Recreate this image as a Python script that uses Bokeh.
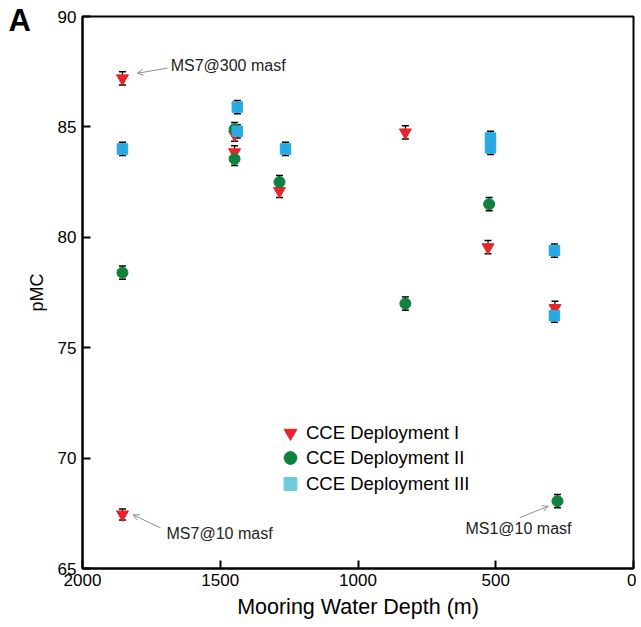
from bokeh.plotting import figure
from bokeh.models import (ColumnDataSource, Range1d, FixedTicker, Whisker, TeeHead,
                          Legend, LegendItem, Label, Arrow, OpenHead)
from bokeh.embed import file_html
from bokeh.resources import INLINE

# ---- data ----
dep1_depth = [1855, 1448, 1448, 1285, 828, 528, 285, 1855]
dep1_pmc = [87.2, 84.65, 83.85, 82.1, 84.75, 79.55, 76.8, 67.45]
dep1_err = [0.3, 0.3, 0.3, 0.3, 0.3, 0.3, 0.3, 0.25]

dep2_depth = [1855, 1448, 1448, 1285, 828, 524, 276]
dep2_pmc = [78.4, 84.9, 83.55, 82.5, 77.0, 81.5, 68.05]
dep2_err = [0.3, 0.3, 0.3, 0.3, 0.3, 0.3, 0.3]

dep3_depth = [1855, 1438, 1438, 1263, 519, 519, 287, 287]
dep3_pmc = [84.0, 85.9, 84.8, 84.0, 84.5, 84.05, 79.4, 76.45]
dep3_err = [0.3, 0.3, 0.3, 0.3, 0.3, 0.3, 0.3, 0.3]

series_names = ["CCE Deployment I", "CCE Deployment II", "CCE Deployment III"]
x_ticks = [0, 500, 1000, 1500, 2000]
y_ticks = [65, 70, 75, 80, 85, 90]

# annotations: (text, text_x, text_y, arrow_start_x, arrow_start_y, arrow_end_x, arrow_end_y)
notes = [
    ("MS7@300 masf", 1680, 87.78, 1692, 87.66, 1801, 87.43),
    ("MS7@10 masf", 1695, 66.6, 1717, 66.84, 1816, 67.43),
    ("MS1@10 masf", 610, 66.8, 413, 67.3, 310, 67.82),
]

RED = "#E8232A"
GREEN = "#10813F"
BLUE = "#29A9E1"
BLUE_LEG = "#6DCBDD"
FONT = "Liberation Sans"

p = figure(width=636, height=623, output_backend="svg", toolbar_location=None,
           x_range=Range1d(2000, 0), y_range=Range1d(65, 90),
           min_border_left=82, min_border_right=3, min_border_top=16, min_border_bottom=55)
p.grid.visible = False
p.outline_line_color = "black"
p.outline_line_width = 2
p.background_fill_color = "white"
p.border_fill_color = "white"

for ax in (p.xaxis[0], p.yaxis[0]):
    ax.axis_line_width = 2
    ax.axis_line_color = "black"
    ax.major_tick_in = 8
    ax.major_tick_out = 0
    ax.major_tick_line_width = 2
    ax.minor_tick_line_color = None
    ax.major_label_text_font = FONT
    ax.major_label_text_font_size = "17px"
    ax.major_label_text_color = "black"
    ax.axis_label_text_font = FONT
    ax.axis_label_text_font_style = "normal"
    ax.axis_label_text_color = "black"

p.xaxis.ticker = FixedTicker(ticks=x_ticks)
p.yaxis.ticker = FixedTicker(ticks=y_ticks)
p.xaxis.axis_label = "Mooring Water Depth (m)"
p.xaxis.axis_label_text_font_size = "21.5px"
p.xaxis.major_label_standoff = 5
p.xaxis.axis_label_standoff = 6
p.yaxis.axis_label = "pMC"
p.yaxis.axis_label_text_font_size = "18px"
p.yaxis.major_label_standoff = 6
p.yaxis.axis_label_standoff = 8

def add_series(xs, ys, es, marker, color, size):
    src = ColumnDataSource(dict(x=xs, y=ys,
                                upper=[y + e for y, e in zip(ys, es)],
                                lower=[y - e for y, e in zip(ys, es)]))
    w = Whisker(source=src, base="x", upper="upper", lower="lower", dimension="height",
                line_color="black", line_width=1.2,
                upper_head=TeeHead(size=7, line_color="black", line_width=1.5),
                lower_head=TeeHead(size=7, line_color="black", line_width=1.5),
                level="underlay")
    p.add_layout(w)
    return p.scatter("x", "y", source=src, marker=marker, size=size,
                     fill_color=color, line_color=color)

r1 = add_series(dep1_depth, dep1_pmc, dep1_err, "inverted_triangle", RED, 12)
r2 = add_series(dep2_depth, dep2_pmc, dep2_err, "circle", GREEN, 11)
r3 = add_series(dep3_depth, dep3_pmc, dep3_err, "square", BLUE, 10.5)

# legend swatch for deployment III uses a lighter cyan, as in the reference
nan = float("nan")
r3_leg = p.scatter(x=[nan], y=[nan], marker="square", fill_color=BLUE_LEG, line_color=BLUE_LEG)

# one single-entry legend per row, so the row pitch can be tighter than the swatch box
leg_rows = [(series_names[0], r1, 118), (series_names[1], r2, 93), (series_names[2], r3_leg, 67)]
for name, rend, yoff in leg_rows:
    lg = Legend(items=[LegendItem(label=name, renderers=[rend])],
                location=(192, yoff), orientation="vertical",
                glyph_width=32, glyph_height=35, label_standoff=0, label_height=35,
                padding=0, margin=0, border_line_color=None, background_fill_alpha=0,
                label_text_font=FONT, label_text_font_size="18.5px", label_text_color="black")
    p.add_layout(lg, "center")

for txt, tx, ty, sx0, sy0, sx1, sy1 in notes:
    p.add_layout(Arrow(x_start=sx0, y_start=sy0, x_end=sx1, y_end=sy1,
                       line_color="#8c8c8c", line_width=1,
                       end=OpenHead(size=6, line_color="#8c8c8c", line_width=1)))
    p.add_layout(Label(x=tx, y=ty, text=txt, text_font=FONT, text_font_size="16px",
                       text_color="#222222", text_baseline="middle", text_align="left"))

# panel letter, positioned in canvas pixels, placed in the left side panel (outside the frame)
p.add_layout(Label(x=8, y=20, x_units="canvas", y_units="canvas", text="A",
                   text_font=FONT, text_font_size="31px", text_font_style="bold",
                   text_color="black", text_baseline="alphabetic", text_align="left"),
             "left")

open("out.html", "w").write(file_html(p, INLINE))
